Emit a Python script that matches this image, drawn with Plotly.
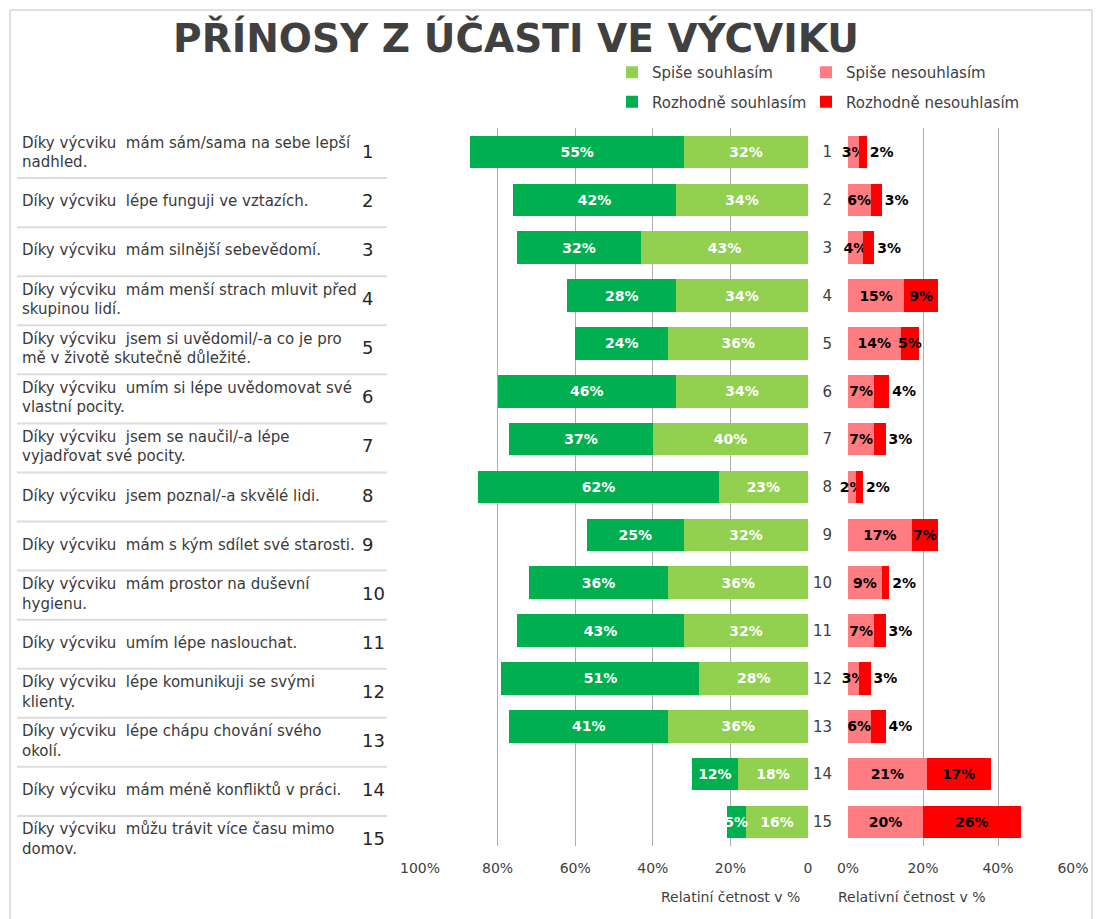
import plotly.graph_objects as go

# ---------------- data ----------------
items = ["1", "2", "3", "4", "5", "6", "7", "8", "9", "10", "11", "12", "13", "14", "15"]
item_rows = [1, 2, 3, 4, 5, 6, 7, 8, 9, 10, 11, 12, 13, 14, 15]
statements = [
    "Díky výcviku\u00a0 mám sám/sama na sebe lepší<br>nadhled.",
    "Díky výcviku\u00a0 lépe funguji ve vztazích.",
    "Díky výcviku\u00a0 mám silnější sebevědomí.",
    "Díky výcviku\u00a0 mám menší strach mluvit před<br>skupinou lidí.",
    "Díky výcviku\u00a0 jsem si uvědomil/-a co je pro<br>mě v životě skutečně důležité.",
    "Díky výcviku\u00a0 umím si lépe uvědomovat své<br>vlastní pocity.",
    "Díky výcviku\u00a0 jsem se naučil/-a lépe<br>vyjadřovat své pocity.",
    "Díky výcviku\u00a0 jsem poznal/-a skvělé lidi.",
    "Díky výcviku\u00a0 mám s kým sdílet své starosti.",
    "Díky výcviku\u00a0 mám prostor na duševní<br>hygienu.",
    "Díky výcviku\u00a0 umím lépe naslouchat.",
    "Díky výcviku\u00a0 lépe komunikuji se svými<br>klienty.",
    "Díky výcviku\u00a0 lépe chápu chování svého<br>okolí.",
    "Díky výcviku\u00a0 mám méně konfliktů v práci.",
    "Díky výcviku\u00a0 můžu trávit více času mimo<br>domov.",
]
rozhodne_souhlasim = [55, 42, 32, 28, 24, 46, 37, 62, 25, 36, 43, 51, 41, 12, 5]
spise_souhlasim = [32, 34, 43, 34, 36, 34, 40, 23, 32, 36, 32, 28, 36, 18, 16]
spise_nesouhlasim = [3, 6, 4, 15, 14, 7, 7, 2, 17, 9, 7, 3, 6, 21, 20]
rozhodne_nesouhlasim = [2, 3, 3, 9, 5, 4, 3, 2, 7, 2, 3, 3, 4, 17, 26]

left_tickvals = [100, 80, 60, 40, 20, 0]
left_ticktext = ["100%", "80%", "60%", "40%", "20%", "0"]
right_tickvals = [0, 20, 40, 60]
right_ticktext = ["0%", "20%", "40%", "60%"]

title_text = "PŘÍNOSY Z ÚČASTI VE VÝCVIKU"
left_axis_title = "Relatiní četnost v %"
right_axis_title = "Relativní četnost v %"

# ---------------- style ----------------
W, H = 1096, 919
FONT = "DejaVu Sans"
C_DG, C_LG, C_LR, C_R = "#00B050", "#92D050", "#FF7C80", "#FF0000"
GRID = "#ADADAD"


def px(x):
    return x / W


def py(y):
    return 1 - y / H


def pct(vals):
    return [f"{v}%" for v in vals]


fig = go.Figure()

lab_w = dict(family=FONT, size=14, color="white", weight="bold")
lab_k = dict(family=FONT, size=14, color="black", weight="bold")

common = dict(orientation="h", texttemplate="%{text}", insidetextanchor="middle",
              textangle=0, constraintext="none", cliponaxis=False, hoverinfo="skip")

fig.add_trace(go.Bar(
    y=items, x=spise_souhlasim, text=pct(spise_souhlasim), name="Spiše souhlasím",
    marker=dict(color=C_LG, line=dict(width=0)), xaxis="x", yaxis="y",
    textposition="inside", textfont=lab_w, legend="legend", legendgroup="a", **common))
fig.add_trace(go.Bar(
    y=items, x=rozhodne_souhlasim, text=pct(rozhodne_souhlasim), name="Rozhodně souhlasím",
    marker=dict(color=C_DG, line=dict(width=0)), xaxis="x", yaxis="y",
    textposition="inside", textfont=lab_w, legend="legend", legendgroup="b", **common))
fig.add_trace(go.Bar(
    y=items, x=spise_nesouhlasim, text=pct(spise_nesouhlasim), name="Spiše nesouhlasím",
    marker=dict(color=C_LR, line=dict(width=0)), xaxis="x2", yaxis="y2",
    textposition="inside", textfont=lab_k, legend="legend2", legendgroup="c", **common))
fig.add_trace(go.Bar(
    y=items, x=rozhodne_nesouhlasim, text=pct(rozhodne_nesouhlasim), name="Rozhodně nesouhlasím",
    marker=dict(color=C_R, line=dict(width=0)), xaxis="x2", yaxis="y2",
    textposition=["inside" if v >= 5 else "outside" for v in rozhodne_nesouhlasim],
    textfont=lab_k, outsidetextfont=lab_k, legend="legend2", legendgroup="d", **common))

# table text (statements + numbers)
fig.add_trace(go.Scatter(
    x=[22] * len(statements), y=item_rows, text=statements, mode="text",
    textposition="middle right", textfont=dict(family=FONT, size=15, color="#3a3a3a"),
    xaxis="x3", yaxis="y3", showlegend=False, hoverinfo="skip", cliponaxis=False))
fig.add_trace(go.Scatter(
    x=[362] * len(items), y=item_rows, text=items, mode="text",
    textposition="middle right", textfont=dict(family=FONT, size=18, color="#262626"),
    xaxis="x3", yaxis="y3", showlegend=False, hoverinfo="skip", cliponaxis=False))

# table separators between rows
shapes = []
for r in item_rows[:-1]:
    shapes.append(dict(type="line", xref="x3", yref="y3", x0=17, x1=387,
                       y0=r + 0.5, y1=r + 0.5, line=dict(color="#DCDCDC", width=2)))
# outer frame
frame = dict(color="#D6D6D6", width=1.5)
shapes.append(dict(type="line", xref="paper", yref="paper", x0=px(10), x1=px(10),
                   y0=py(10), y1=0, line=frame))
shapes.append(dict(type="line", xref="paper", yref="paper", x0=px(10), x1=px(1092),
                   y0=py(10), y1=py(10), line=frame))
shapes.append(dict(type="line", xref="paper", yref="paper", x0=px(1092), x1=px(1092),
                   y0=py(10), y1=0, line=frame))

tick_font = dict(family=FONT, size=14, color="#404040")
legend_font = dict(family=FONT, size=15, color="#404040")

fig.update_layout(
    width=W, height=H,
    margin=dict(l=0, r=0, t=0, b=0, autoexpand=False),
    paper_bgcolor="white", plot_bgcolor="rgba(0,0,0,0)",
    barmode="stack", bargap=0.32,
    title=dict(text=title_text, x=px(516), y=py(38), xanchor="center", yanchor="middle",
               font=dict(family=FONT, size=39, color="#404040", weight="bold")),
    xaxis=dict(domain=[px(420), px(808)], range=[100, 0], tickvals=left_tickvals,
               ticktext=left_ticktext, showgrid=True, gridcolor=GRID, gridwidth=1,
               zeroline=False, showline=False, ticks="", tickfont=tick_font,
               ticklabelstandoff=12, anchor="y", fixedrange=True),
    yaxis=dict(domain=[py(846), py(128)], type="category", range=[14.5, -0.5],
               showticklabels=False, showgrid=False, zeroline=False, showline=False,
               ticks="", anchor="x"),
    xaxis2=dict(domain=[px(848), px(1073)], range=[0, 60], tickvals=right_tickvals,
                ticktext=right_ticktext, showgrid=True, gridcolor=GRID, gridwidth=1,
                zeroline=False, showline=False, ticks="", tickfont=tick_font,
                ticklabelstandoff=12, anchor="y2"),
    yaxis2=dict(domain=[py(846), py(128)], type="category", range=[14.5, -0.5],
                showticklabels=True, showgrid=False, zeroline=False, showline=False,
                ticks="", tickfont=dict(family=FONT, size=15, color="#404040"),
                ticklabelstandoff=15, anchor="x2"),
    xaxis3=dict(domain=[0, px(400)], range=[0, 400], visible=False, anchor="y3"),
    yaxis3=dict(domain=[py(865), py(129)], range=[15.5, 0.5], visible=False, anchor="x3"),
    legend=dict(x=px(612), y=py(56), xanchor="left", yanchor="top", orientation="v",
                traceorder="grouped", tracegroupgap=7, bgcolor="rgba(0,0,0,0)",
                font=legend_font, itemclick=False),
    legend2=dict(x=px(806), y=py(56), xanchor="left", yanchor="top", orientation="v",
                 traceorder="grouped", tracegroupgap=7, bgcolor="rgba(0,0,0,0)",
                 font=legend_font, itemclick=False),
    shapes=shapes,
    annotations=[
        dict(text=left_axis_title, xref="paper", yref="paper", x=px(730), y=py(897),
             xanchor="center", yanchor="middle", showarrow=False,
             font=dict(family=FONT, size=14, color="#404040")),
        dict(text=right_axis_title, xref="paper", yref="paper", x=px(912), y=py(897),
             xanchor="center", yanchor="middle", showarrow=False,
             font=dict(family=FONT, size=14, color="#404040")),
    ],
    showlegend=True,
)

fig.write_html("out.html", config={"displayModeBar": False},
               post_script="document.body.style.margin='0px';")
